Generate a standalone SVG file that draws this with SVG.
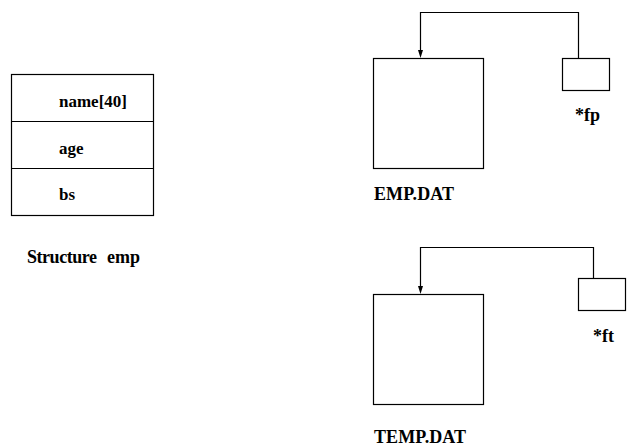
<svg xmlns="http://www.w3.org/2000/svg" width="637" height="448" viewBox="0 0 637 448">
<style>
.box{fill:none;stroke:#000;stroke-width:1.2}
.t{font-family:"Liberation Serif","Times New Roman",serif;font-weight:bold;font-size:17px;fill:#000}
.l{font-size:18px}
.c{fill:none;stroke:#000;stroke-width:1.2}
</style>
<rect width="637" height="448" fill="#fff"/>
<g id="struct">
<rect class="box" x="11.5" y="74.5" width="142" height="141"/>
<line class="box" x1="11.5" y1="121.5" x2="153.5" y2="121.5"/>
<line class="box" x1="11.5" y1="168.5" x2="153.5" y2="168.5"/>
<text class="t" x="59" y="107">name[40]</text>
<text class="t" x="59" y="154">age</text>
<text class="t" x="59" y="200">bs</text>
<text class="t l" x="27" y="263" xml:space="preserve"><tspan x="27" textLength="70">Structure</tspan><tspan x="107">emp</tspan></text>
</g>
<g id="empdat">
<rect class="box" x="373.5" y="58.5" width="110" height="110"/>
<text class="t l" x="374" y="200" textLength="80">EMP.DAT</text>
</g>
<g id="fp">
<rect class="box" x="562.5" y="58.5" width="47" height="32"/>
<text class="t l" x="575" y="121">*fp</text>
</g>
<g id="tempdat">
<rect class="box" x="373.5" y="294.5" width="110" height="110"/>
<text class="t l" x="374" y="443" textLength="92">TEMP.DAT</text>
</g>
<g id="ft">
<rect class="box" x="578.5" y="278.5" width="47" height="32"/>
<text class="t l" x="593" y="342">*ft</text>
</g>
<g id="connectors">
<path class="c" d="M578.5,58.5 V12.5 H420.5 V51"/>
<path d="M418,50 L423,50 L420.5,58 Z" fill="#000"/>
<path class="c" d="M593.5,278.5 V247.5 H420.5 V287"/>
<path d="M418,286 L423,286 L420.5,294 Z" fill="#000"/>
</g>
</svg>
